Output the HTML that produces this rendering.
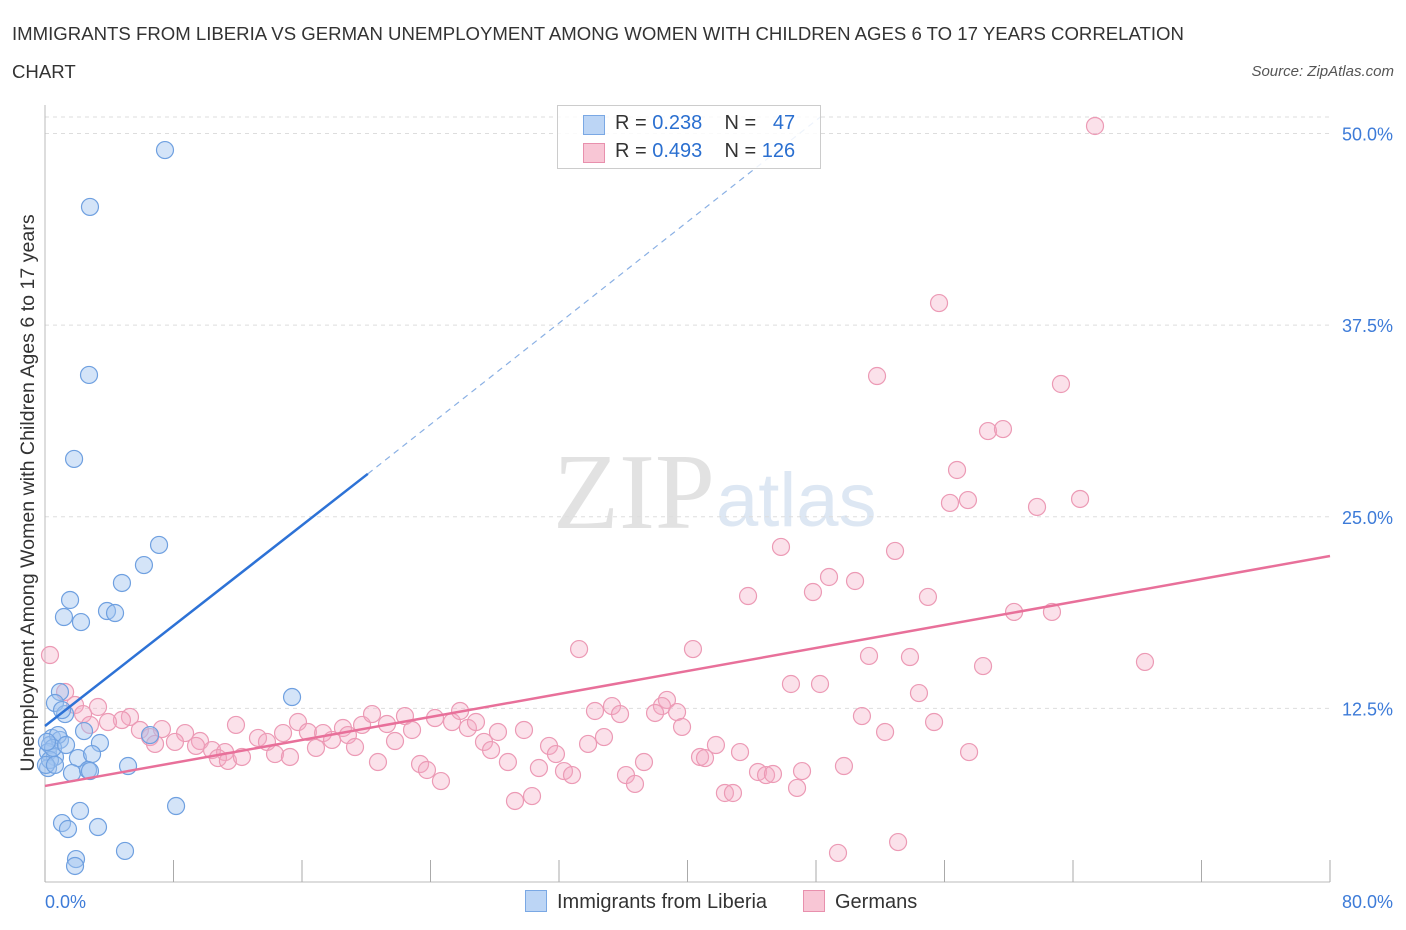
<!DOCTYPE html>
<html><head><meta charset="utf-8"><style>
body{margin:0;background:#fff;font-family:"Liberation Sans",sans-serif;}
#wrap{position:relative;width:1406px;height:930px;overflow:hidden}
</style></head><body>
<div id="wrap">
<svg id="svg" width="1406" height="930" xmlns="http://www.w3.org/2000/svg">
<text x="12" y="40" font-size="18.6" fill="#333">IMMIGRANTS FROM LIBERIA VS GERMAN UNEMPLOYMENT AMONG WOMEN WITH CHILDREN AGES 6 TO 17 YEARS CORRELATION</text>
<text x="12" y="78" font-size="18.6" fill="#333">CHART</text>
<text x="1394" y="76" font-size="15" fill="#555" font-style="italic" text-anchor="end">Source: ZipAtlas.com</text>
<text x="715" y="528" font-size="108" fill="#e2e2e2" text-anchor="end" font-family="Liberation Serif">ZIP</text>
<text x="716" y="526" font-size="76" fill="#dde7f3">atlas</text>
<text transform="translate(34,493) rotate(-90)" font-size="19.6" fill="#333" text-anchor="middle">Unemployment Among Women with Children Ages 6 to 17 years</text>
<g id="grid"></g><g id="marks"></g>
</svg>
<div style="position:absolute;left:557px;top:105px;width:262px;height:62px;border:1px solid #ccc;background:rgba(255,255,255,0.85);font-size:20px;color:#333">
<div style="position:absolute;left:25px;top:9px;width:20px;height:18px;background:#bcd5f5;border:1px solid #7aa8e4"></div>
<div style="position:absolute;left:57px;top:6px">R = <span style="color:#2a6fd0">0.238</span>&nbsp;&nbsp;&nbsp; N = &nbsp;&nbsp;<span style="color:#2a6fd0">47</span></div>
<div style="position:absolute;left:25px;top:37px;width:20px;height:18px;background:#f8c6d5;border:1px solid #e890ad"></div>
<div style="position:absolute;left:57px;top:34px">R = <span style="color:#2a6fd0">0.493</span>&nbsp;&nbsp;&nbsp; N = <span style="color:#2a6fd0">126</span></div>
</div>
<div style="position:absolute;left:525px;top:890px;font-size:20px;color:#333"><span style="display:inline-block;width:20px;height:20px;background:#bcd5f5;border:1px solid #7aa8e4;vertical-align:-4px;margin-right:10px"></span>Immigrants from Liberia</div>
<div style="position:absolute;left:803px;top:890px;font-size:20px;color:#333"><span style="display:inline-block;width:20px;height:20px;background:#f8c6d5;border:1px solid #e890ad;vertical-align:-4px;margin-right:10px"></span>Germans</div>
</div>
<script>
const xTicks=[0,8,16,24,32,40,48,56,64,72,80];
const yTicks=[12.5,25,37.5,50];
const bluePx=[[165,150],[90,207],[89,375],[74,459],[159,545],[144,565],[122,583],[70,600],[107,611],[115,613],[64,617],[81,622],[292,697],[60,692],[55,703],[65,714],[52,738],[84,731],[100,743],[50,745],[60,740],[48,752],[55,757],[78,758],[92,754],[128,766],[72,773],[88,770],[90,771],[48,768],[80,811],[176,806],[62,823],[68,829],[98,827],[125,851],[76,859],[75,866],[50,760],[58,735],[53,748],[46,765],[62,710],[150,735],[47,742],[55,765],[66,745]];
const pinkPx=[[1095,126],[939,303],[877,376],[1061,384],[988,431],[1003,429],[957,470],[950,503],[968,500],[1037,507],[1080,499],[781,547],[895,551],[829,577],[855,581],[813,592],[748,596],[928,597],[1014,612],[1052,612],[579,649],[693,649],[869,656],[910,657],[983,666],[1145,662],[791,684],[820,684],[919,693],[667,700],[612,706],[595,711],[662,706],[620,714],[655,713],[677,712],[862,716],[934,722],[682,727],[50,655],[65,692],[75,705],[98,707],[83,714],[130,717],[122,720],[108,722],[90,725],[140,730],[162,729],[185,733],[150,737],[175,742],[155,744],[200,741],[196,746],[212,750],[225,752],[236,725],[218,758],[228,761],[242,757],[258,738],[267,742],[275,754],[290,757],[283,733],[298,722],[308,732],[316,748],[323,733],[332,740],[343,728],[348,735],[355,747],[362,725],[372,714],[387,724],[378,762],[395,741],[405,716],[412,730],[420,764],[427,770],[435,718],[441,781],[452,722],[460,711],[468,728],[476,722],[484,742],[491,750],[498,732],[508,762],[515,801],[524,730],[532,796],[539,768],[549,746],[556,754],[564,771],[572,775],[588,744],[604,737],[626,775],[635,784],[644,762],[700,757],[705,758],[716,745],[725,793],[733,793],[740,752],[758,772],[766,775],[773,774],[797,788],[802,771],[838,853],[898,842],[844,766],[885,732],[969,752]];
const blueX=bluePx.map(p=>+((p[0]-45)/16.0625).toFixed(2));
const blueY=bluePx.map(p=>+((900-p[1])/15.33).toFixed(2));
const pinkX=pinkPx.map(p=>+((p[0]-45)/16.0625).toFixed(2));
const pinkY=pinkPx.map(p=>+((900-p[1])/15.33).toFixed(2));
const blueTrend=[[0,11.35],[20.1,27.8],[48.3,51.1]];
const pinkTrend=[[0,7.44],[80,22.44]];
function sx(v){return 45+v*16.0625;}
function sy(v){return 900-v*15.33;}
const NS="http://www.w3.org/2000/svg";
const grid=document.getElementById('grid'),marks=document.getElementById('marks');
function mk(tag,at,parent){const e=document.createElementNS(NS,tag);for(const k in at)e.setAttribute(k,at[k]);parent.appendChild(e);return e;}
yTicks.forEach(t=>{
 const l=mk('line',{x1:45,x2:1330,y1:sy(t),y2:sy(t),stroke:'#ddd','stroke-dasharray':'4,4'},grid);
 
 
 const tx=mk('text',{x:1393,y:sy(t)+7,'font-size':18,fill:'#3d7bd8','text-anchor':'end'},grid);
 tx.textContent=t.toFixed(1)+'%';
 
 
});
const gt=mk('line',{x1:45,x2:1330,y1:117,y2:117,stroke:'#ddd','stroke-dasharray':'4,4'},grid);


const ax=mk('line',{x1:45,x2:1330,y1:882,y2:882,stroke:'#bbb'},grid);


const ay=mk('line',{x1:45,x2:45,y1:105,y2:882,stroke:'#bbb'},grid);


xTicks.forEach(t=>{
 const l=mk('line',{x1:sx(t),x2:sx(t),y1:860,y2:882,stroke:'#aaa'},grid);
 
 
});
[[0,'0.0%','start',45],[80,'80.0%','end',1393]].forEach(a=>{
 const tx=mk('text',{x:a[3],y:908,'font-size':18,fill:'#3d7bd8','text-anchor':a[2]},grid);
 tx.textContent=a[1];
 
 
});
pinkX.forEach((x,i)=>{
 const c=mk('circle',{cx:sx(x),cy:sy(pinkY[i]),r:8.5,fill:'rgba(244,170,195,0.35)',stroke:'#ec9ab5','stroke-width':1.2},marks);
 
 
});
blueX.forEach((x,i)=>{
 const c=mk('circle',{cx:sx(x),cy:sy(blueY[i]),r:8.5,fill:'rgba(160,195,240,0.45)',stroke:'#6fa0e0','stroke-width':1.2},marks);
 
 
});
const pl=mk('line',{x1:sx(pinkTrend[0][0]),y1:sy(pinkTrend[0][1]),x2:sx(pinkTrend[1][0]),y2:sy(pinkTrend[1][1]),stroke:'#e8709a','stroke-width':2.5},marks);


const bl=mk('line',{x1:sx(blueTrend[0][0]),y1:sy(blueTrend[0][1]),x2:sx(blueTrend[1][0]),y2:sy(blueTrend[1][1]),stroke:'#2d72d6','stroke-width':2.5},marks);


const bd=mk('line',{x1:sx(blueTrend[1][0]),y1:sy(blueTrend[1][1]),x2:sx(blueTrend[2][0]),y2:sy(blueTrend[2][1]),stroke:'#8ab0e4','stroke-width':1.2,'stroke-dasharray':'6,5'},marks);


</script>
</body></html>
